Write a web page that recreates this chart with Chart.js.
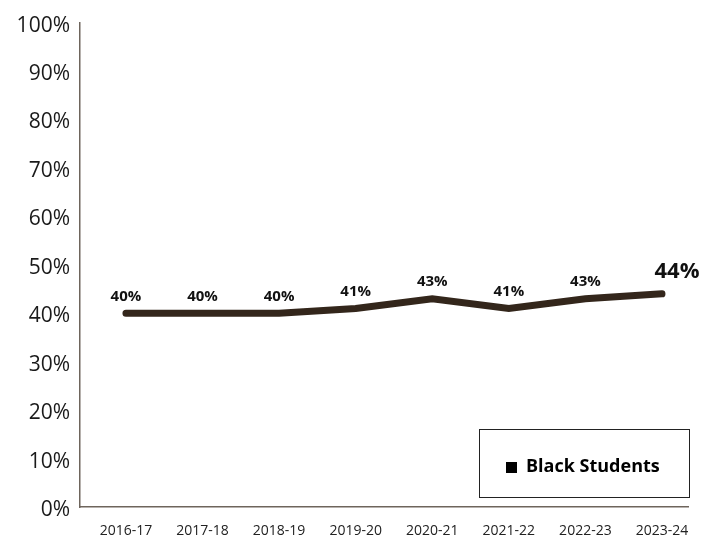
<!DOCTYPE html>
<html lang="en">
<head>
    <meta charset="UTF-8">
    <title>Black Students 2016-17 to 2023-24</title>
    <script src="https://cdn.jsdelivr.net/npm/chart.js"></script>
    <style>
        html, body { margin: 0; padding: 0; background: #fff; }
        .chart-wrap { width: 720px; height: 537px; position: relative; }
    </style>
</head>
<body>
    <div class="chart-wrap">
        <canvas id="trendChart"></canvas>
    </div>

    <script>
        // school years and share of Black students (%)
        const years = ['2016-17', '2017-18', '2018-19', '2019-20', '2020-21', '2021-22', '2022-23', '2023-24'];
        const blackStudents = [40, 40, 40, 41, 43, 41, 43, 44];
        const seriesName = 'Black Students';
        const yTicks = [0, 10, 20, 30, 40, 50, 60, 70, 80, 90, 100];

        const FONT = '"Open Sans", "Noto Sans", Arial, sans-serif';
        const LINE_COLOR = '#33261b';
        const AXIS_COLOR = '#6e655c';

        // percent labels above each point, the latest one bigger
        const pointLabels = {
            id: 'pointLabels',
            afterDatasetsDraw(chart) {
                const ctx = chart.ctx;
                const meta = chart.getDatasetMeta(0);
                const values = chart.data.datasets[0].data;
                ctx.save();
                ctx.fillStyle = '#111';
                ctx.textAlign = 'center';
                ctx.textBaseline = 'middle';
                meta.data.forEach((pt, i) => {
                    const last = i === values.length - 1;
                    ctx.font = (last ? 'bold 22px ' : 'bold 15px ') + FONT;
                    const dx = last ? 15 : 0;
                    const dy = last ? -22 : -17;
                    ctx.fillText(values[i].y + '%', pt.x + dx, pt.y + dy);
                });
                ctx.restore();
            }
        };

        // boxed legend in the lower right corner of the plot
        const boxLegend = {
            id: 'boxLegend',
            afterDraw(chart) {
                const ctx = chart.ctx;
                const area = chart.chartArea;
                const w = 210, h = 68;
                const x = area.right - w + 1;
                const y = area.bottom - 10 - h;
                ctx.save();
                ctx.fillStyle = '#fff';
                ctx.fillRect(x, y, w, h);
                ctx.strokeStyle = '#222';
                ctx.lineWidth = 1;
                ctx.strokeRect(x + 0.5, y + 0.5, w, h);
                ctx.fillStyle = '#000';
                ctx.fillRect(x + 27, y + 33, 11, 11);
                ctx.font = 'bold 18px ' + FONT;
                ctx.textBaseline = 'middle';
                ctx.textAlign = 'left';
                ctx.fillText(chart.data.datasets[0].label, x + 47, y + 38);
                ctx.restore();
            }
        };

        new Chart(document.getElementById('trendChart'), {
            type: 'line',
            data: {
                datasets: [{
                    label: seriesName,
                    data: blackStudents.map((v, i) => ({ x: i, y: v })),
                    borderColor: LINE_COLOR,
                    backgroundColor: LINE_COLOR,
                    borderWidth: 7,
                    borderCapStyle: 'round',
                    borderJoinStyle: 'miter',
                    pointRadius: 0,
                    tension: 0,
                    fill: false
                }]
            },
            options: {
                responsive: true,
                maintainAspectRatio: false,
                animation: false,
                layout: { padding: { top: 19, right: 32, bottom: 0, left: 0 } },
                plugins: {
                    legend: { display: false },
                    tooltip: { enabled: false }
                },
                scales: {
                    x: {
                        type: 'linear',
                        min: -0.6,
                        max: 7.34,
                        grid: { display: false, drawTicks: false },
                        border: { display: true, color: AXIS_COLOR, width: 1.5 },
                        afterBuildTicks(scale) {
                            scale.ticks = years.map((_, i) => ({ value: i }));
                        },
                        afterFit(scale) { scale.height = 30; },
                        ticks: {
                            autoSkip: false,
                            maxRotation: 0,
                            padding: 16,
                            color: '#222',
                            font: { family: FONT, size: 14 },
                            callback: (v) => years[v]
                        }
                    },
                    y: {
                        min: 0,
                        max: 100,
                        grid: { display: false, drawTicks: false },
                        border: { display: true, color: AXIS_COLOR, width: 1.5 },
                        afterBuildTicks(scale) {
                            scale.ticks = yTicks.map(v => ({ value: v }));
                        },
                        afterFit(scale) { scale.width = 80; },
                        ticks: {
                            padding: 10,
                            labelOffset: 3,
                            color: '#1a1a1a',
                            font: { family: FONT, size: 21 },
                            callback: (v) => v + '%'
                        }
                    }
                }
            },
            plugins: [pointLabels, boxLegend]
        });
    </script>
</body>
</html>
